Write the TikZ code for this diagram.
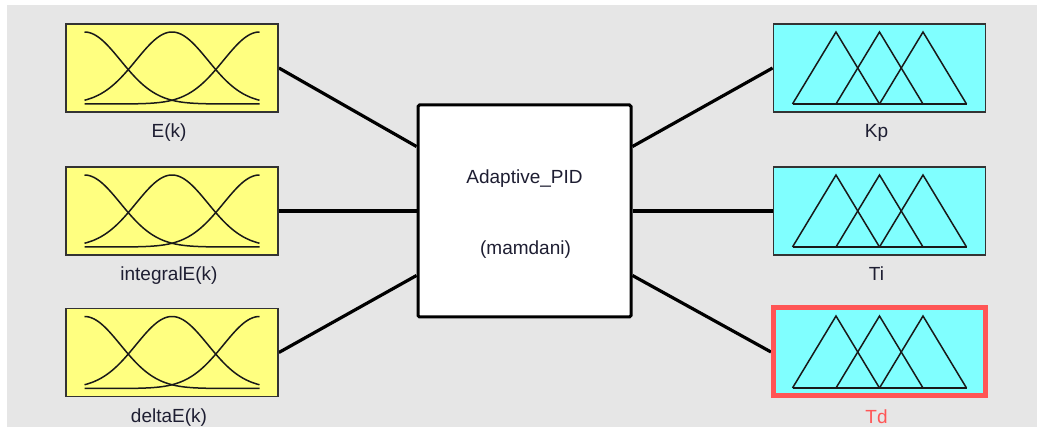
\documentclass[tikz,border=0pt]{standalone}
\usepackage{fontspec}
\setmainfont{Liberation Sans}
\usetikzlibrary{positioning,calc}
\pgfdeclarelayer{back}
\pgfsetlayers{back,main}
\definecolor{panelgray}{RGB}{230,230,230}
\definecolor{mfyellow}{RGB}{255,255,128}
\definecolor{mfcyan}{RGB}{128,255,255}
\definecolor{selred}{RGB}{255,85,85}
\definecolor{lbltext}{RGB}{30,30,50}

\tikzset{
  mfline/.style={line width=1.5pt,color=black!90},
  gaussmf/.pic={
    \foreach \m in {-87.5,0,87.5}
      \draw[mfline] plot[domain=-87.5:87.5,samples=90,smooth] (\x,{36-72*exp(-0.5*((\x-\m)/36)^2)});
  },
  trimf/.pic={
    \draw[mfline] (-87,36) -- (87,36);
    \foreach \m in {-43.5,0,43.5}
      \draw[mfline,line join=miter] (\m-43.5,36) -- (\m,-36) -- (\m+43.5,36);
  }
}

\begin{document}
\begin{tikzpicture}[x=1pt,y=-1pt,
  inbox/.style={draw=black!80,line width=1.8pt,fill=mfyellow,minimum width=212pt,minimum height=88pt,inner sep=0pt},
  outbox/.style={inbox,fill=mfcyan},
  fisbox/.style={draw=black,line width=3pt,fill=white,rounded corners=1.5pt,minimum width=213pt,minimum height=212pt,inner sep=0pt},
  lbl/.style={font=\fontsize{19}{23}\selectfont,text=lbltext,text height=0.75em,text depth=0.21em,inner sep=0pt,xshift=-3pt},
  wire/.style={line width=3.2pt,color=black}]
	\useasboundingbox (0,0) rectangle (1037,427);
	\begin{pgfonlayer}{back}
		\fill[white] (0,0) rectangle (1037,427);
		\fill[panelgray] (7,5) rectangle (1037,427);
	\end{pgfonlayer}

	% inputs
	\node[inbox] (ek) at (172,68) {};
	\node[inbox] (iek) at (172,211) {};
	\node[inbox] (dek) at (172,352.5) {};
	\pic at (ek) {gaussmf};
	\pic at (iek) {gaussmf};
	\pic at (dek) {gaussmf};
	\node[lbl,below=17pt of ek] (ekl) {E(k)};
	\node[lbl,below=17pt of iek] (iekl) {integralE(k)};
	\node[lbl,below=17pt of dek] (dekl) {deltaE(k)};

	% rule block
	\node[fisbox] (fis) at (524.5,211) {};
	\node[lbl,xshift=3pt] (fisname) at ([yshift=30pt]fis.center) {Adaptive\_PID};
	\node[lbl,xshift=4pt] (fistype) at ([yshift=-41pt]fis.center) {(mamdani)};

	% outputs
	\node[outbox] (kp) at (879.5,68) {};
	\node[outbox] (ti) at (879.5,211) {};
	\node[outbox,draw=selred,line width=5pt] (td) at (879.5,352) {};
	\pic at (kp) {trimf};
	\pic at (ti) {trimf};
	\pic at (td) {trimf};
	\node[lbl,below=17pt of kp] (kpl) {Kp};
	\node[lbl,below=17pt of ti] (til) {Ti};
	\node[lbl,below=17pt of td,text=selred] (tdl) {Td};

	% connectors
	\begin{pgfonlayer}{back}
		\draw[wire] (ek.east) -- ($(fis.north west)!0.2!(fis.south west)$);
		\draw[wire] (iek.east) -- (fis.west);
		\draw[wire] (dek.east) -- ($(fis.north west)!0.8!(fis.south west)$);
		\draw[wire] (kp.west) -- ($(fis.north east)!0.2!(fis.south east)$);
		\draw[wire] (ti.west) -- (fis.east);
		\draw[wire] (td.west) -- ($(fis.north east)!0.8!(fis.south east)$);
	\end{pgfonlayer}
\end{tikzpicture}
\end{document}
